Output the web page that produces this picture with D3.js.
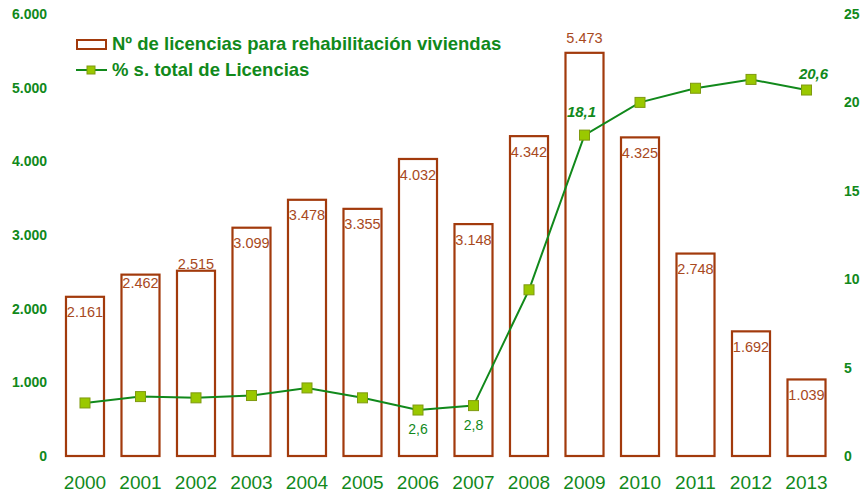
<!DOCTYPE html>
<html><head><meta charset="utf-8">
<script src="https://cdn.jsdelivr.net/npm/d3@7"></script>
<style>body{margin:0;background:#fff}svg{display:block}text{font-family:"Liberation Sans",Arial,sans-serif}</style>
</head><body><svg id="c" width="862" height="496"></svg>
<script>
const years = ["2000","2001","2002","2003","2004","2005","2006","2007","2008","2009","2010","2011","2012","2013"];
const licencias = [2161,2462,2515,3099,3478,3355,4032,3148,4342,5473,4325,2748,1692,1039];
const licenciasLabels = ["2.161","2.462","2.515","3.099","3.478","3.355","4.032","3.148","4.342","5.473","4.325","2.748","1.692","1.039"];
const pct = [3.0,3.36,3.29,3.42,3.85,3.29,2.6,2.85,9.4,18.15,20.0,20.8,21.3,20.7];
const pctLabels = ["","","","","","","2,6","2,8","","18,1","","","","20,6"];
const leftTicks = [0,1000,2000,3000,4000,5000,6000];
const leftTickLabels = ["0","1.000","2.000","3.000","4.000","5.000","6.000"];
const rightTicks = [0,5,10,15,20,25];
const legendLabels = ["Nº de licencias para rehabilitación viviendas","% s. total de Licencias"];

const svg = d3.select("#c");
const green = "#11891b", brown = "#a23a0c", barLabel = "#a8491d";
const x = d3.scaleBand().domain(years).range([48.5, 843]).padding(0.315);
const yL = d3.scaleLinear().domain([0,6000]).range([456,14]);
const yR = d3.scaleLinear().domain([0,25]).range([456,14]);

// left axis
const la = svg.append("g").attr("transform","translate(47,0)")
  .call(d3.axisLeft(yL).tickValues(leftTicks).tickSize(0).tickPadding(0).tickFormat((d,i)=>leftTickLabels[i]));
la.select(".domain").remove();
la.selectAll("text").attr("fill",green).style("font-size","14px").style("font-weight","bold").attr("font-family",null);
// right axis
const ra = svg.append("g").attr("transform","translate(844,0)")
  .call(d3.axisRight(yR).tickValues(rightTicks).tickSize(0).tickPadding(0));
ra.select(".domain").remove();
ra.selectAll("text").attr("fill",green).style("font-size","14px").style("font-weight","bold").attr("font-family",null);
// x axis
const xa = svg.append("g").attr("transform","translate(0,476)")
  .call(d3.axisBottom(x).tickSize(0).tickPadding(0));
xa.select(".domain").remove();
xa.selectAll("text").attr("fill",green).style("font-size","19px").attr("font-family",null).attr("dy","0.7em");

// bars
svg.append("g").selectAll("rect").data(licencias).join("rect")
  .attr("x",(d,i)=>x(years[i])).attr("width",x.bandwidth())
  .attr("y",d=>yL(d)).attr("height",d=>yL(0)-yL(d))
  .attr("fill","#fff").attr("stroke",brown).attr("stroke-width",2.2);

const labelOffset = i => i===2 ? -7 : (i===9 ? -15 : (i===1 ? 8 : 15.5));
svg.append("g").selectAll("text").data(licencias).join("text")
  .attr("x",(d,i)=>x(years[i])+x.bandwidth()/2)
  .attr("y",(d,i)=>yL(d)+labelOffset(i)).attr("dy","0.35em")
  .attr("text-anchor","middle").attr("fill",barLabel).style("font-size","14.5px")
  .text((d,i)=>licenciasLabels[i]);

// line
const cx = i => x(years[i])+x.bandwidth()/2;
svg.append("path").datum(pct)
  .attr("d",d3.line().x((d,i)=>cx(i)).y(d=>yR(d)))
  .attr("fill","none").attr("stroke",green).attr("stroke-width",2);
svg.append("g").selectAll("rect").data(pct).join("rect")
  .attr("x",(d,i)=>cx(i)-5).attr("y",d=>yR(d)-5).attr("width",10).attr("height",10)
  .attr("fill","#9ac800").attr("stroke","#7f9a10").attr("stroke-width",1);

svg.append("g").selectAll("text").data(pct).join("text")
  .filter((d,i)=>pctLabels[i]!=="")
  .each(function(d){
    const i = pct.indexOf(d);
    const t = d3.select(this).text(pctLabels[i]).attr("fill",green).attr("text-anchor","middle").attr("dy","0.35em");
    if (i===9) t.attr("x",cx(i)-3).attr("y",yR(d)-23).style("font-size","15px").style("font-weight","bold").style("font-style","italic");
    else if (i===13) t.attr("x",cx(i)+7).attr("y",yR(d)-16).style("font-size","15px").style("font-weight","bold").style("font-style","italic");
    else t.attr("x",cx(i)).attr("y",yR(d)+19).style("font-size","14px");
  });

// legend
const lg = svg.append("g");
lg.append("rect").attr("x",77).attr("y",40).attr("width",29).attr("height",9)
  .attr("fill","#fff").attr("stroke",brown).attr("stroke-width",2);
lg.append("line").attr("x1",76).attr("x2",107).attr("y1",70).attr("y2",70).attr("stroke",green).attr("stroke-width",2);
lg.append("rect").attr("x",87).attr("y",66).attr("width",8).attr("height",8).attr("fill","#9ac800").attr("stroke","#7f9a10");
lg.selectAll("text.l").data(legendLabels).join("text").attr("class","l")
  .attr("x",112).attr("y",(d,i)=>44+i*26).attr("dy","0.35em")
  .attr("fill",green).style("font-size","18.5px").style("font-weight","bold").text(d=>d);
</script></body></html>
